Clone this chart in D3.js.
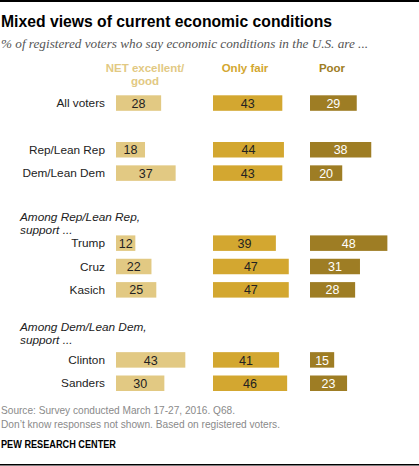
<!DOCTYPE html>
<html>
<head>
<meta charset="utf-8">
<script src="https://cdn.jsdelivr.net/npm/d3@7"></script>
<style>
  html, body { margin: 0; padding: 0; background: #fff; }
  svg { display: block; }
</style>
</head>
<body>
<div id="chart"></div>
<script>
// ---- Data ----
const categories = ["All voters", "Rep/Lean Rep", "Dem/Lean Dem", "Trump", "Cruz", "Kasich", "Clinton", "Sanders"];
const seriesNames = ["NET excellent/\ngood", "Only fair", "Poor"];
const netExcellentGood = [28, 18, 37, 12, 22, 25, 43, 30];
const onlyFair = [43, 44, 43, 39, 47, 47, 41, 46];
const poor = [29, 38, 20, 48, 31, 28, 15, 23];
const groupHeaders = ["Among Rep/Lean Rep,\nsupport ...", "Among Dem/Lean Dem,\nsupport ..."];
const title = "Mixed views of current economic conditions";
const subtitle = "% of registered voters who say economic conditions in the U.S. are ...";
const sourceLines = ["Source: Survey conducted March 17-27, 2016. Q68.", "Don\u2019t know responses not shown. Based on registered voters."];
const credit = "PEW RESEARCH CENTER";

// ---- Layout ----
const W = 419, H = 466;
const colors = ["#e2c983", "#d3a730", "#9e7d24"];
const headerColors = ["#e2c983", "#d3a730", "#9e7d24"];
const textColors = ["#222", "#222", "#fff"];
const series = [netExcellentGood, onlyFair, poor];

const svg = d3.select("#chart").append("svg").attr("width", W).attr("height", H);
const sans = "'Liberation Sans', Arial, sans-serif";

// top & bottom rules
svg.append("rect").attr("x", 0).attr("y", 0).attr("width", W).attr("height", 2).attr("fill", "#000");
svg.append("rect").attr("x", 0).attr("y", 464).attr("width", W).attr("height", 1.5).attr("fill", "#000");

svg.append("text").attr("x", 1).attr("y", 26.5).text(title)
  .attr("font-family", sans).attr("font-weight", "bold").attr("font-size", 16.5)
  .attr("textLength", 331).attr("lengthAdjust", "spacingAndGlyphs").attr("fill", "#000");

svg.append("text").attr("x", 1).attr("y", 48).text(subtitle)
  .attr("font-family", "'Liberation Serif', Georgia, serif").attr("font-style", "italic").attr("font-size", 13)
  .attr("textLength", 367).attr("lengthAdjust", "spacingAndGlyphs").attr("fill", "#555");

// slots with spacers
const slots = ["All voters", "_s1", "Rep/Lean Rep", "Dem/Lean Dem", "_s2", "_s3", "Trump", "Cruz", "Kasich", "_s4", "_s5", "Clinton", "Sanders"];
const step = 23.35, barH = 15.5, top0 = 95.3;
const y = d3.scaleBand().domain(slots)
  .range([top0, top0 + (slots.length - 1) * step + barH])
  .paddingInner((step - barH) / step).paddingOuter(0).align(0);
const bh = y.bandwidth();

const colStarts = [116, 213, 310];
const unit = 1.612;
const xScales = colStarts.map(s => d3.scaleLinear().domain([0, 60]).range([s, s + 60 * unit]));

// headers
const headerCenters = [145, 245, 332];
seriesNames.forEach((name, i) => {
  const t = svg.append("text").attr("text-anchor", "middle")
    .attr("font-family", sans).attr("font-weight", "bold").attr("font-size", 11.5)
    .attr("fill", headerColors[i]);
  name.split("\n").forEach((line, j) => {
    t.append("tspan").attr("x", headerCenters[i]).attr("y", 72 + j * 12.5).text(line);
  });
});

// row labels
categories.forEach((c) => {
  svg.append("text").attr("x", 105).attr("y", y(c) + bh / 2 + 4.2)
    .attr("text-anchor", "end").attr("font-family", sans).attr("font-size", 11.8)
    .attr("fill", "#222").text(c);
});

// group headers
const headerAnchors = [["Trump", -1.5], ["Clinton", -8.5]];
groupHeaders.forEach((g, i) => {
  const base = y(headerAnchors[i][0]) + headerAnchors[i][1];
  const lines = g.split("\n");
  lines.forEach((line, j) => {
    svg.append("text").attr("x", 20).attr("y", base - (lines.length - 1 - j) * 13)
      .attr("font-family", sans).attr("font-style", "italic").attr("font-size", 11.8)
      .attr("fill", "#222").text(line);
  });
});

// bars
series.forEach((vals, si) => {
  const xs = xScales[si];
  const g = svg.append("g");
  g.selectAll("rect").data(categories).join("rect")
    .attr("x", xs(0)).attr("y", d => y(d))
    .attr("width", (d, i) => xs(vals[i]) - xs(0)).attr("height", bh)
    .attr("fill", colors[si]);
  g.selectAll("text").data(categories).join("text")
    .attr("x", (d, i) => (xs(0) + xs(vals[i])) / 2)
    .attr("y", d => y(d) + bh / 2 + 4.6)
    .attr("text-anchor", "middle").attr("font-family", sans).attr("font-size", 12.5)
    .attr("fill", textColors[si]).text((d, i) => vals[i]);
});

// footer
const sourceWidths = [234, 279];
sourceLines.forEach((s, i) => {
  svg.append("text").attr("x", 1).attr("y", 413.5 + i * 14).text(s)
    .attr("font-family", sans).attr("font-size", 11).attr("fill", "#8a8a8a")
    .attr("textLength", sourceWidths[i]).attr("lengthAdjust", "spacingAndGlyphs");
});
svg.append("text").attr("x", 1).attr("y", 447.5).text(credit)
  .attr("font-family", sans).attr("font-weight", "bold").attr("font-size", 10.5).attr("fill", "#000")
  .attr("textLength", 115).attr("lengthAdjust", "spacingAndGlyphs");
</script>
</body>
</html>
